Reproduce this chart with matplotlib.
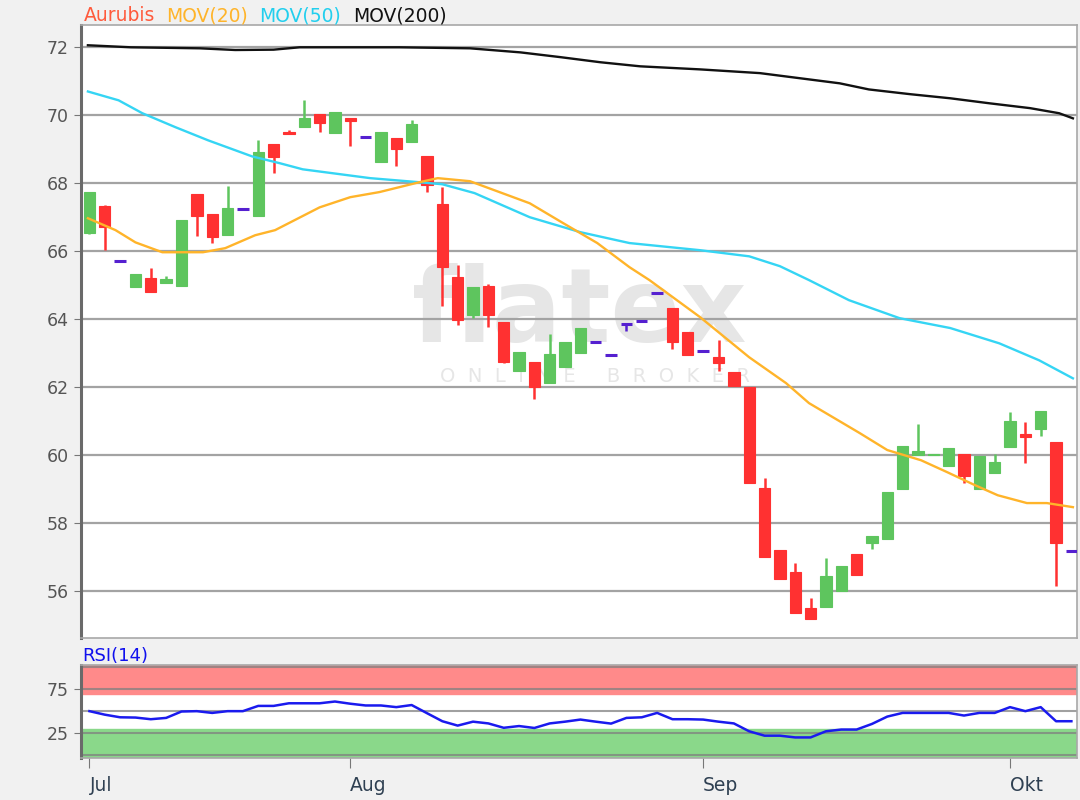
import numpy as np
import matplotlib
matplotlib.use("Agg")
import matplotlib.pyplot as plt

plt.rcParams['font.family'] = ['DejaVu Sans']

# daily candles, trading day index 0..64 (Jul - Okt)
opens = [66.53, 67.32, 65.71, 64.94, 65.20, 65.06, 64.97, 67.68, 67.09, 66.47,
         67.24, 67.03, 69.15, 69.50, 69.65, 70.03, 69.47, 69.91, 69.35, 68.62,
         69.32, 69.21, 68.79, 67.38, 65.24, 64.12, 64.97, 63.91, 62.47, 62.74,
         62.12, 62.59, 63.00, 63.32, 62.94, 63.85, 63.94, 64.76, 64.32, 63.62,
         63.06, 62.88, 62.44, 62.00, 59.03, 57.21, 56.56, 55.50, 55.53, 56.00,
         57.09, 57.41, 57.53, 59.00, 60.00, 60.00, 59.68, 60.03, 59.00, 59.47,
         60.24, 60.62, 60.76, 60.38, 57.18]
highs = [67.75, 67.35, 65.71, 65.32, 65.50, 65.26, 66.91, 67.68, 67.09, 67.91,
         67.24, 69.26, 69.15, 69.56, 70.44, 70.03, 70.09, 69.91, 69.35, 69.50,
         69.32, 69.85, 68.79, 67.88, 65.59, 64.94, 65.03, 63.91, 63.03, 62.74,
         63.56, 63.32, 63.74, 63.32, 62.94, 63.85, 63.94, 64.76, 64.32, 63.62,
         63.06, 63.38, 62.44, 62.00, 59.32, 57.21, 56.82, 55.79, 56.97, 56.74,
         57.09, 57.62, 58.91, 60.26, 60.91, 60.03, 60.21, 60.03, 59.97, 60.03,
         61.26, 60.97, 61.29, 60.38, 57.18]
lows = [66.50, 66.03, 65.71, 64.94, 64.80, 65.06, 64.97, 66.44, 66.24, 66.47,
        67.24, 67.03, 68.29, 69.44, 69.65, 69.50, 69.47, 69.09, 69.35, 68.62,
        68.50, 69.21, 67.74, 64.38, 63.82, 64.03, 63.76, 62.70, 62.47, 61.65,
        62.12, 62.59, 63.00, 63.32, 62.94, 63.65, 63.94, 64.76, 63.12, 62.94,
        63.06, 62.47, 62.03, 59.18, 57.00, 56.35, 55.35, 55.18, 55.53, 56.00,
        56.47, 57.24, 57.53, 59.00, 60.00, 60.00, 59.68, 59.18, 59.00, 59.47,
        60.24, 59.76, 60.56, 56.15, 57.18]
closes = [67.74, 66.71, 65.71, 65.32, 64.80, 65.18, 66.91, 67.03, 66.41, 67.26,
          67.24, 68.91, 68.76, 69.44, 69.91, 69.76, 70.09, 69.82, 69.35, 69.50,
          69.00, 69.74, 67.94, 65.53, 63.97, 64.94, 64.12, 62.74, 63.03, 62.00,
          62.97, 63.32, 63.74, 63.32, 62.94, 63.85, 63.94, 64.76, 63.32, 62.94,
          63.06, 62.71, 62.03, 59.18, 57.00, 56.35, 55.35, 55.18, 56.44, 56.74,
          56.47, 57.62, 58.91, 60.26, 60.12, 60.03, 60.21, 59.38, 59.97, 59.79,
          61.00, 60.53, 61.29, 57.41, 57.18]

# moving averages (day index, value)
mov20_x = [-0.1, 1.7, 3.0, 4.75, 7.4, 8.85, 10.8, 12.1, 15.0, 17.0, 18.9, 21.5,
           22.7, 24.8, 28.7, 30.9, 33.1, 35.2, 36.5, 39.8, 43.0, 45.4, 46.9,
           50.2, 52.0, 54.2, 55.9, 57.7, 59.2, 61.1, 62.4, 64.1]
mov20_y = [66.97, 66.62, 66.26, 65.97, 65.97, 66.09, 66.47, 66.62, 67.29, 67.59,
           67.74, 68.03, 68.15, 68.06, 67.41, 66.82, 66.24, 65.53, 65.15, 64.06,
           62.88, 62.12, 61.53, 60.65, 60.15, 59.85, 59.50, 59.12, 58.82, 58.59,
           58.59, 58.47]
mov50_x = [-0.1, 1.9, 3.45, 5.6, 7.75, 10.6, 12.4, 13.9, 18.3, 21.5, 23.0, 25.1,
           28.7, 32.0, 35.2, 39.8, 43.0, 45.0, 46.9, 49.5, 52.8, 56.1, 59.3,
           61.9, 64.1]
mov50_y = [70.70, 70.44, 70.06, 69.65, 69.26, 68.79, 68.59, 68.41, 68.15, 68.03,
           67.97, 67.71, 67.00, 66.56, 66.24, 66.03, 65.85, 65.56, 65.15, 64.56,
           64.03, 63.74, 63.29, 62.79, 62.26]
mov200_x = [-0.1, 2.7, 7.2, 9.5, 12.0, 13.7, 20.2, 24.8, 28.1, 30.7, 33.3, 35.9,
            39.8, 43.7, 46.3, 48.9, 50.8, 53.5, 56.1, 58.7, 61.3, 63.2, 64.1]
mov200_y = [72.06, 72.00, 71.97, 71.92, 71.93, 72.00, 72.00, 71.97, 71.85, 71.71,
            71.56, 71.44, 71.35, 71.24, 71.09, 70.94, 70.76, 70.62, 70.50, 70.35,
            70.21, 70.06, 69.91]

# RSI(14) per day
rsi = [50, 46, 43, 42.7, 40.8, 42.3, 49.6, 50, 48, 50,
       50, 56, 56, 59, 59, 59, 61, 58.5, 56.5, 56.5,
       54.6, 57, 47.7, 38.5, 33.5, 38, 36, 31, 33, 30.8,
       36, 38, 40.4, 38, 35.8, 42.3, 43, 48, 40.8, 40.8,
       40.4, 38, 36, 27, 22, 22, 20, 20, 27, 29,
       29, 35.4, 43.8, 48, 48, 48, 48, 45, 48, 48,
       54.6, 50, 54.6, 38.5, 38.5]

month_pos = [0, 17, 40, 60]
month_lbl = ["Jul", "Aug", "Sep", "Okt"]
price_ticks = [56, 58, 60, 62, 64, 66, 68, 70, 72]

GREEN = '#5ec55e'
RED = '#ff3131'
DOJI = '#5520d0'
GRID = '#a3a3a3'

fig = plt.figure(figsize=(10.8, 8), dpi=100, facecolor='#f1f1f1')
ax = fig.add_axes([0.075, 0.2025, 0.922, 0.766])
ax2 = fig.add_axes([0.075, 0.0525, 0.922, 0.116])

n = len(opens)
x = np.arange(n)
o = np.array(opens); h = np.array(highs); l = np.array(lows); c = np.array(closes)

for yv in price_ticks:
    ax.axhline(yv, color=GRID, lw=1.6, zorder=1)

# watermark
ax.text(0.50, 0.53, "flatex", transform=ax.transAxes, ha='center', va='center',
        fontsize=74, color='#e6e6e6', fontweight='bold', zorder=0.5)
ax.text(0.516, 0.426, "O  N  L  I  N  E     B  R  O  K  E  R", transform=ax.transAxes,
        ha='center', va='center', fontsize=14, color='#e6e6e6', zorder=0.5)

up = c > o
dn = c < o
eq = c == o
cols = np.where(up, GREEN, np.where(dn, RED, DOJI))
ax.vlines(x, l, h, colors=cols, lw=1.8, zorder=2)
bw = 0.74
ax.bar(x[up], (c - o)[up], bottom=o[up], width=bw, color=GREEN, edgecolor=GREEN,
       lw=0.8, zorder=3)
ax.bar(x[dn], (o - c)[dn], bottom=c[dn], width=bw, color=RED, edgecolor=RED,
       lw=0.8, zorder=3)
ax.hlines(c[eq], x[eq] - bw / 2, x[eq] + bw / 2, colors=DOJI, lw=2.2, zorder=3)

ax.plot(mov200_x, mov200_y, color='#111111', lw=1.7, zorder=4)
ax.plot(mov50_x, mov50_y, color='#35d5f4', lw=1.7, zorder=4)
ax.plot(mov20_x, mov20_y, color='#ffb42a', lw=1.7, zorder=4)

ax.set_xlim(-0.55, 64.35)
ax.set_ylim(54.62, 72.65)
ax.set_yticks(price_ticks)
ax.set_yticklabels([str(t) for t in price_ticks], fontsize=12.5, color='#555555')
ax.set_xticks([])
ax.tick_params(axis='y', length=5, color='#777777', pad=4)
ax.set_facecolor('white')
for s in ['top', 'right', 'bottom']:
    ax.spines[s].set_color('#a8a8a8')
    ax.spines[s].set_linewidth(1.2)
ax.spines['left'].set_color('#6a6a6a')
ax.spines['left'].set_linewidth(2.2)

# legend line
for xp, txt, col in [(84, "Aurubis", '#ff5a3c'), (166, "MOV(20)", '#ffb42a'),
                     (259, "MOV(50)", '#22cfee'), (353, "MOV(200)", '#111111')]:
    fig.text(xp / 1080, 1 - 21 / 800, txt, color=col, fontsize=13.5, va='baseline')

# RSI panel
ax2.set_facecolor('white')
ax2.axhspan(70, 110, color='#ff8a8a', zorder=1)
ax2.axhspan(-10, 30, color='#8ad88a', zorder=1)
for yv in [0, 25, 50, 75, 100]:
    ax2.axhline(yv, color='#808080', lw=1.5, alpha=0.75, zorder=2)
ax2.plot(x, rsi, color='#1a1aee', lw=1.8, zorder=3)
ax2.set_xlim(-0.55, 64.35)
ax2.set_ylim(-3.5, 102.5)
ax2.set_yticks([25, 75])
ax2.set_yticklabels(["25", "75"], fontsize=12.5, color='#555555')
ax2.tick_params(axis='y', length=5, color='#777777', pad=4)
ax2.set_xticks(month_pos)
ax2.set_xticklabels(month_lbl, fontsize=13.5, color='#2f4052', ha='left')
ax2.tick_params(axis='x', length=7, color='#777777', pad=6)
for s in ['top', 'right', 'bottom']:
    ax2.spines[s].set_color('#a8a8a8')
    ax2.spines[s].set_linewidth(1.2)
ax2.spines['left'].set_color('#6a6a6a')
ax2.spines['left'].set_linewidth(2.2)
fig.text(82 / 1080, 1 - 661 / 800, "RSI(14)", color='#1010ee', fontsize=13,
         va='baseline')

fig.savefig("out.png", dpi=100, facecolor=fig.get_facecolor())
